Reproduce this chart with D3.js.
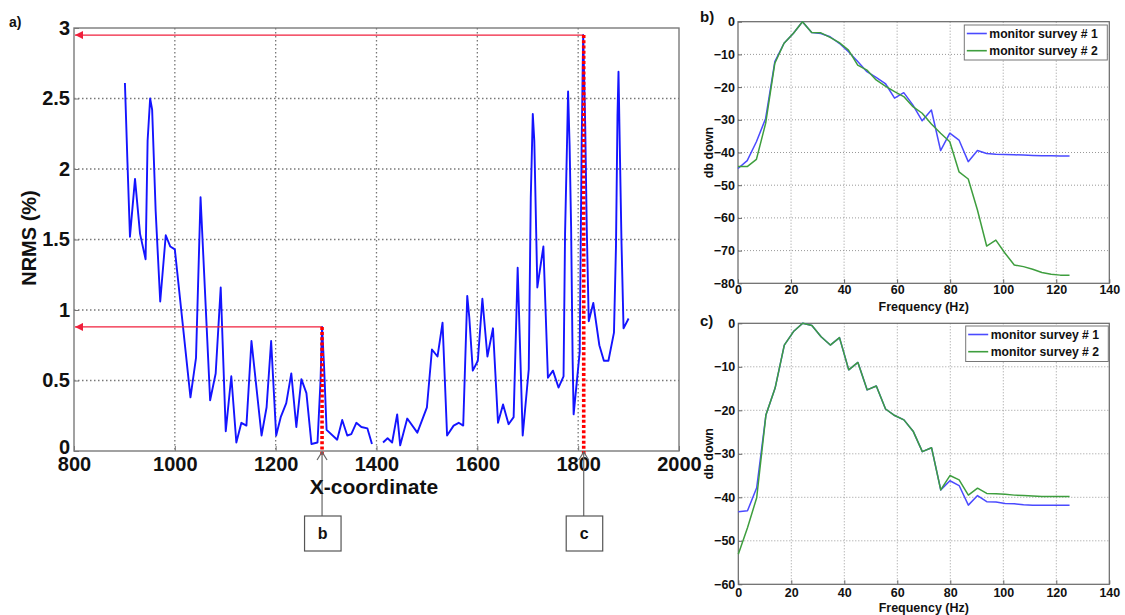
<!DOCTYPE html>
<html><head><meta charset="utf-8">
<script src="https://cdn.jsdelivr.net/npm/d3@7"></script>
<style>
html,body{margin:0;padding:0;background:#fff;}
svg text{font-family:"Liberation Sans",Arial,sans-serif;font-weight:bold;fill:#111;}
</style></head>
<body>
<svg id="c" width="1125" height="615"></svg>
<script>
// ---------- DATA ----------
// panel a) NRMS along X-coordinate (null = gap in line)
const xCoord = [901,906,911,921,931,942,946,951,955,962,971,982,991,1000,1031,1042,1051,1070,1081,1091,1101,1112,1122,1132,1142,1152,1172,1182,1191,1201,1210,1221,1231,1241,1251,1261,1271,1283,1289,1292,1296,1301,1322,1332,1342,1350,1360,1370,1382,1391,1402,1413,1422,1431,1441,1447,1461,1481,1500,1510,1521,1531,1540,1553,1563,1572,1580,1584,1591,1601,1610,1620,1631,1641,1651,1662,1672,1680,1690,1702,1706,1710,1713,1719,1731,1740,1750,1761,1771,1774,1778,1780,1783,1786,1789,1791,1803,1807,1810,1814,1817,1821,1830,1842,1851,1860,1871,1875,1878,1880,1883,1886,1890,1900];
const nrms = [2.61,2.05,1.52,1.93,1.54,1.36,2.2,2.50,2.42,1.7,1.06,1.53,1.45,1.43,0.38,0.66,1.80,0.36,0.55,1.16,0.14,0.53,0.06,0.20,0.18,0.78,0.11,0.31,0.78,0.11,0.24,0.34,0.55,0.17,0.51,0.41,0.05,0.06,0.5,0.88,0.6,0.15,0.08,0.22,0.11,0.12,0.20,0.17,0.16,0.05,null,0.06,0.09,0.06,0.26,0.04,0.23,0.13,0.31,0.72,0.67,0.91,0.11,0.18,0.20,0.18,1.10,0.95,0.57,0.64,1.08,0.67,0.87,0.20,0.33,0.19,0.24,1.30,0.11,0.58,1.8,2.39,2.2,1.16,1.45,0.52,0.57,0.45,0.53,1.54,2.2,2.55,2.17,1.59,0.65,0.26,0.70,2.2,2.95,2.3,1.59,0.92,1.05,0.75,0.64,0.64,0.84,1.45,2.38,2.69,2.07,1.47,0.87,0.94];
const xTicksA = [800,1000,1200,1400,1600,1800,2000];
const yTicksA = [0,0.5,1,1.5,2,2.5,3];
const markX = [1292,1811];
const markY = [0.88,2.95];
const markLabels = ["b","c"];

// panels b) and c) spectra
const freq = [0,3.47,6.94,10.42,13.89,17.36,20.83,24.31,27.78,31.25,34.72,38.19,41.67,45.14,48.61,52.08,55.56,59.03,62.5,65.97,69.44,72.92,76.39,79.86,83.33,86.81,90.28,93.75,97.22,100.69,104.17,107.64,111.11,114.58,118.06,121.53,125];
const bSurvey1 = [-44.9,-42.5,-36.7,-29.6,-12.2,-6.6,-3.6,0,-3.3,-3.6,-4.6,-6.6,-9.2,-12.2,-15.3,-17,-18.9,-23.4,-21.7,-25.5,-30.3,-27,-39.4,-34.1,-36.2,-42.8,-39.4,-40.3,-40.5,-40.6,-40.7,-40.8,-40.9,-41,-41,-41.1,-41.1];
const bSurvey2 = [-44.3,-44.3,-42.1,-31.1,-12.7,-6.6,-3.6,0,-3.3,-3.4,-4.8,-6.4,-8.7,-13.3,-14.8,-17.8,-19.7,-21.4,-22.9,-26,-28,-31.3,-34.1,-36.7,-45.9,-48.1,-57.6,-68.6,-66.8,-70.8,-74.4,-74.9,-75.7,-76.7,-77.2,-77.5,-77.5];
const cSurvey1 = [-43.3,-43.1,-37.8,-21.1,-14.9,-5.0,-1.9,0,-0.5,-3.1,-5.0,-3.3,-10.7,-9.0,-15.3,-14.4,-19.7,-21.2,-22.2,-24.8,-29.5,-28.6,-38.3,-36.2,-37.3,-41.8,-39.6,-41,-41.1,-41.4,-41.5,-41.7,-41.8,-41.8,-41.8,-41.8,-41.8];
const cSurvey2 = [-53.1,-47,-40.1,-21.1,-14.9,-5.0,-1.9,0,-0.5,-3.1,-5.0,-3.3,-10.7,-9.0,-15.3,-14.4,-19.7,-21.2,-22.2,-24.8,-29.5,-28.6,-38.3,-35.0,-36.0,-39.5,-37.9,-39.1,-39.2,-39.3,-39.5,-39.6,-39.7,-39.8,-39.8,-39.8,-39.8];
const freqTicks = [0,20,40,60,80,100,120,140];
const bTicks = [0,-10,-20,-30,-40,-50,-60,-70,-80];
const cTicks = [0,-10,-20,-30,-40,-50,-60];
const legendNames = ["monitor survey # 1","monitor survey # 2"];
const seriesColors = ["#4a4aff","#3e9e3e"];

// ---------- DRAW ----------
const svg = d3.select("#c");
const defs = svg.append("defs");
defs.append("marker").attr("id","redArrow").attr("viewBox","0 0 10 10")
  .attr("refX",10).attr("refY",5).attr("markerWidth",10).attr("markerHeight",8)
  .attr("markerUnits","userSpaceOnUse").attr("orient","auto")
  .append("path").attr("d","M0,0 L10,5 L0,10 Z").attr("fill","#f0203c");

// ---- panel a ----
const A = {l:74,r:679,t:28,b:451};
const xA = d3.scaleLinear().domain([800,2000]).range([A.l,A.r]);
const yA = d3.scaleLinear().domain([0,3]).range([A.b,A.t]);
const gA = svg.append("g");

gA.selectAll("line.vg").data(xTicksA.slice(1,-1)).join("line")
  .attr("x1",d=>xA(d)).attr("x2",d=>xA(d)).attr("y1",A.t).attr("y2",A.b)
  .attr("stroke","#777").attr("stroke-width",1.3).attr("stroke-dasharray","1.5,2.5");
gA.selectAll("line.hg").data(yTicksA.slice(1,-1)).join("line")
  .attr("y1",d=>yA(d)).attr("y2",d=>yA(d)).attr("x1",A.l).attr("x2",A.r)
  .attr("stroke","#777").attr("stroke-width",1.3).attr("stroke-dasharray","1.5,2.5");

const axA_x = gA.append("g").attr("transform",`translate(0,${A.b})`)
  .call(d3.axisBottom(xA).tickValues(xTicksA).tickFormat(d3.format("d")).tickSize(-5).tickPadding(6));
const axA_y = gA.append("g").attr("transform",`translate(${A.l},0)`)
  .call(d3.axisLeft(yA).tickValues(yTicksA).tickFormat(d=>String(d)).tickSize(-5).tickPadding(4));
[axA_x,axA_y].forEach(g=>{
  g.select(".domain").remove();
  g.selectAll(".tick line").attr("stroke","#777");
  g.selectAll("text").style("font-size","20px").attr("fill","#111");
});
// lift the "0" label slightly so it sits above "800" like the reference
axA_y.selectAll(".tick").filter(d=>d===0).select("text").attr("dy","0.12em");
gA.append("rect").attr("x",A.l).attr("y",A.t).attr("width",A.r-A.l).attr("height",A.b-A.t)
  .attr("fill","none").attr("stroke","#7a7a7a").attr("stroke-width",1.4);

const ptsA = xCoord.map((x,i)=>({x,y:nrms[i]}));
gA.append("path").datum(ptsA)
  .attr("d",d3.line().defined(d=>d.y!==null).x(d=>xA(d.x)).y(d=>yA(d.y)))
  .attr("fill","none").attr("stroke","#1414ff").attr("stroke-width",1.9).attr("stroke-linejoin","round");

markX.forEach((mx,i)=>{
  const px = xA(mx), py = yA(markY[i]);
  gA.append("line").attr("x1",px).attr("y1",py).attr("x2",A.l+1).attr("y2",py)
    .attr("stroke","#f0203c").attr("stroke-width",1.3).attr("marker-end","url(#redArrow)");
  gA.append("line").attr("x1",px).attr("x2",px).attr("y1",py).attr("y2",A.b+4)
    .attr("stroke","#ff0000").attr("stroke-width",3.6).attr("stroke-dasharray","3,2.2");
  // gray pointer from box
  gA.append("line").attr("x1",px).attr("x2",px).attr("y1",516).attr("y2",A.b+1)
    .attr("stroke","#666").attr("stroke-width",1.2);
  gA.append("polyline").attr("points",`${px-5},${A.b+9} ${px},${A.b+1} ${px+5},${A.b+9}`)
    .attr("fill","none").attr("stroke","#666").attr("stroke-width",1.2);
  gA.append("rect").attr("x",px-17.5).attr("y",516).attr("width",36.5).attr("height",35)
    .attr("fill","#fff").attr("stroke","#555").attr("stroke-width",1.2);
  gA.append("text").attr("x",px+0.5).attr("y",539).attr("text-anchor","middle")
    .style("font-size","16px").attr("fill","#1a1a2a").text(markLabels[i]);
});

gA.append("text").attr("x",374).attr("y",494).attr("text-anchor","middle")
  .style("font-size","21px").text("X-coordinate");
gA.append("text").attr("transform","translate(36,238) rotate(-90)").attr("text-anchor","middle")
  .style("font-size","20px").text("NRMS (%)");
gA.append("text").attr("x",9).attr("y",27).style("font-size","14px").attr("fill","#1f2d45").text("a)");

// ---- panels b and c ----
function panel(P, yTicks, ydom, s1, s2, tag, tagY, xlabY){
  const x = d3.scaleLinear().domain([0,140]).range([P.l,P.r]);
  const y = d3.scaleLinear().domain(ydom).range([P.b,P.t]);
  const g = svg.append("g");
  g.selectAll("line.vg").data(freqTicks.slice(1,-1)).join("line")
    .attr("x1",d=>x(d)).attr("x2",d=>x(d)).attr("y1",P.t).attr("y2",P.b)
    .attr("stroke","#999").attr("stroke-width",1).attr("stroke-dasharray","1,2");
  g.selectAll("line.hg").data(yTicks.slice(1,-1)).join("line")
    .attr("y1",d=>y(d)).attr("y2",d=>y(d)).attr("x1",P.l).attr("x2",P.r)
    .attr("stroke","#999").attr("stroke-width",1).attr("stroke-dasharray","1,2");
  const ax = g.append("g").attr("transform",`translate(0,${P.b})`)
    .call(d3.axisBottom(x).tickValues(freqTicks).tickSize(-4).tickPadding(P.xpad));
  const ay = g.append("g").attr("transform",`translate(${P.l},0)`)
    .call(d3.axisLeft(y).tickValues(yTicks).tickSize(-4).tickPadding(3));
  [ax,ay].forEach(a=>{
    a.select(".domain").remove();
    a.selectAll(".tick line").attr("stroke","#666");
    a.selectAll("text").style("font-size","12.5px").attr("fill","#111");
  });
  g.append("rect").attr("x",P.l).attr("y",P.t).attr("width",P.r-P.l).attr("height",P.b-P.t)
    .attr("fill","none").attr("stroke","#666").attr("stroke-width",1.2);
  const line = d3.line().x((d,i)=>x(freq[i])).y(d=>y(d));
  [s1,s2].forEach((s,k)=>{
    g.append("path").datum(s).attr("d",line).attr("fill","none")
      .attr("stroke",seriesColors[k]).attr("stroke-width",1.5).attr("stroke-linejoin","round");
  });
  // legend
  const L = P.leg;
  g.append("rect").attr("x",L.x).attr("y",L.y).attr("width",L.w).attr("height",L.h)
    .attr("fill","#fff").attr("stroke","#777").attr("stroke-width",1);
  legendNames.forEach((n,k)=>{
    const ly = L.y + 8.5 + k*17.2;
    g.append("line").attr("x1",L.x+2.5).attr("x2",L.x+22.5).attr("y1",ly).attr("y2",ly)
      .attr("stroke",seriesColors[k]).attr("stroke-width",1.6);
    g.append("text").attr("x",L.x+25).attr("y",ly+4.3).style("font-size","12.2px").text(n);
  });
  g.append("text").attr("x",(P.l+P.r)/2).attr("y",xlabY).attr("text-anchor","middle")
    .style("font-size","12.5px").text("Frequency (Hz)");
  g.append("text").attr("transform",`translate(713,${(P.t+P.b)/2}) rotate(-90)`).attr("text-anchor","middle")
    .style("font-size","12.5px").text("db down");
  g.append("text").attr("x",700).attr("y",tagY).style("font-size","15px").attr("fill","#1f2d45").text(tag);
}

panel({l:738,r:1109.3,t:21.7,b:283.3,xpad:2,leg:{x:964.3,y:25,w:143,h:35}},
      bTicks,[-80,0],bSurvey1,bSurvey2,"b)",22,311);
panel({l:738.3,r:1109.3,t:323.3,b:584.3,xpad:3.5,leg:{x:965.7,y:326,w:142.6,h:35.5}},
      cTicks,[-60,0],cSurvey1,cSurvey2,"c)",326,612);
</script>
</body></html>
